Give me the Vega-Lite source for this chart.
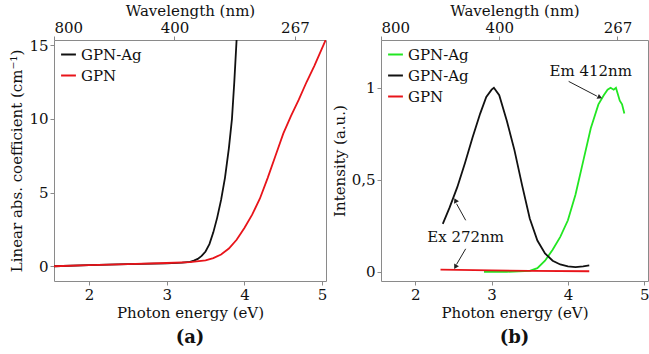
{
  "$schema": "https://vega.github.io/schema/vega-lite/v6.json",
  "padding": {"left": 9, "top": 2, "right": 0, "bottom": 0},
  "spacing": 3,
  "resolve": {"scale": {"color": "independent", "x": "independent", "y": "independent"}, "legend": {"color": "independent"}},
  "config": {
    "font": "DejaVu Serif",
    "view": {"stroke": "#8a8a8a", "strokeWidth": 1},
    "axis": {"domain": false, "grid": false, "labelFont": "DejaVu Serif", "titleFont": "DejaVu Serif", "labelFontSize": 15, "titleFontSize": 15, "titleFontWeight": "normal", "labelColor": "#111", "titleColor": "#111", "tickColor": "#8a8a8a", "tickSize": 4},
    "legend": {"labelFont": "DejaVu Serif", "labelFontSize": 15, "labelColor": "#111", "symbolType": "stroke", "symbolStrokeWidth": 2, "symbolSize": 220, "rowPadding": 4, "padding": 4, "offset": 2, "title": null},
    "title": {"font": "DejaVu Serif", "fontSize": 18, "fontWeight": "bold", "color": "#111"}
  },
  "datasets": {
    "abs": [
      {"E": 1.55, "v": 0.0, "s": "GPN-Ag"}, {"E": 2.0, "v": 0.08, "s": "GPN-Ag"}, {"E": 2.5, "v": 0.14, "s": "GPN-Ag"}, {"E": 3.0, "v": 0.2, "s": "GPN-Ag"}, {"E": 3.2, "v": 0.25, "s": "GPN-Ag"}, {"E": 3.3, "v": 0.3, "s": "GPN-Ag"}, {"E": 3.35, "v": 0.38, "s": "GPN-Ag"}, {"E": 3.4, "v": 0.5, "s": "GPN-Ag"}, {"E": 3.45, "v": 0.7, "s": "GPN-Ag"}, {"E": 3.5, "v": 1.0, "s": "GPN-Ag"}, {"E": 3.55, "v": 1.5, "s": "GPN-Ag"}, {"E": 3.6, "v": 2.3, "s": "GPN-Ag"}, {"E": 3.65, "v": 3.3, "s": "GPN-Ag"}, {"E": 3.7, "v": 4.5, "s": "GPN-Ag"}, {"E": 3.75, "v": 6.0, "s": "GPN-Ag"}, {"E": 3.8, "v": 8.0, "s": "GPN-Ag"}, {"E": 3.84, "v": 10.0, "s": "GPN-Ag"}, {"E": 3.87, "v": 12.5, "s": "GPN-Ag"}, {"E": 3.9, "v": 15.4, "s": "GPN-Ag"},
      {"E": 1.55, "v": 0.0, "s": "GPN"}, {"E": 2.0, "v": 0.08, "s": "GPN"}, {"E": 2.5, "v": 0.15, "s": "GPN"}, {"E": 3.0, "v": 0.22, "s": "GPN"}, {"E": 3.3, "v": 0.28, "s": "GPN"}, {"E": 3.5, "v": 0.4, "s": "GPN"}, {"E": 3.6, "v": 0.55, "s": "GPN"}, {"E": 3.7, "v": 0.8, "s": "GPN"}, {"E": 3.8, "v": 1.2, "s": "GPN"}, {"E": 3.9, "v": 1.8, "s": "GPN"}, {"E": 4.0, "v": 2.6, "s": "GPN"}, {"E": 4.1, "v": 3.5, "s": "GPN"}, {"E": 4.2, "v": 4.6, "s": "GPN"}, {"E": 4.3, "v": 6.0, "s": "GPN"}, {"E": 4.4, "v": 7.5, "s": "GPN"}, {"E": 4.5, "v": 9.0, "s": "GPN"}, {"E": 4.6, "v": 10.2, "s": "GPN"}, {"E": 4.7, "v": 11.3, "s": "GPN"}, {"E": 4.8, "v": 12.5, "s": "GPN"}, {"E": 4.9, "v": 13.6, "s": "GPN"}, {"E": 5.0, "v": 14.8, "s": "GPN"}, {"E": 5.05, "v": 15.4, "s": "GPN"}
    ],
    "pl": [
      {"E": 2.9, "v": 0.0, "s": "ex"}, {"E": 3.2, "v": 0.0, "s": "ex"}, {"E": 3.5, "v": 0.005, "s": "ex"}, {"E": 3.6, "v": 0.02, "s": "ex"}, {"E": 3.7, "v": 0.06, "s": "ex"}, {"E": 3.8, "v": 0.12, "s": "ex"}, {"E": 3.9, "v": 0.19, "s": "ex"}, {"E": 4.0, "v": 0.28, "s": "ex"}, {"E": 4.1, "v": 0.42, "s": "ex"}, {"E": 4.2, "v": 0.6, "s": "ex"}, {"E": 4.3, "v": 0.78, "s": "ex"}, {"E": 4.4, "v": 0.91, "s": "ex"}, {"E": 4.47, "v": 0.96, "s": "ex"}, {"E": 4.52, "v": 0.99, "s": "ex"}, {"E": 4.56, "v": 1.0, "s": "ex"}, {"E": 4.6, "v": 0.99, "s": "ex"}, {"E": 4.63, "v": 1.0, "s": "ex"}, {"E": 4.68, "v": 0.93, "s": "ex"}, {"E": 4.71, "v": 0.91, "s": "ex"}, {"E": 4.74, "v": 0.86, "s": "ex"},
      {"E": 2.36, "v": 0.26, "s": "em"}, {"E": 2.45, "v": 0.35, "s": "em"}, {"E": 2.55, "v": 0.46, "s": "em"}, {"E": 2.65, "v": 0.59, "s": "em"}, {"E": 2.75, "v": 0.73, "s": "em"}, {"E": 2.85, "v": 0.86, "s": "em"}, {"E": 2.93, "v": 0.95, "s": "em"}, {"E": 3.0, "v": 0.99, "s": "em"}, {"E": 3.03, "v": 1.0, "s": "em"}, {"E": 3.1, "v": 0.96, "s": "em"}, {"E": 3.2, "v": 0.82, "s": "em"}, {"E": 3.3, "v": 0.66, "s": "em"}, {"E": 3.4, "v": 0.47, "s": "em"}, {"E": 3.5, "v": 0.29, "s": "em"}, {"E": 3.6, "v": 0.17, "s": "em"}, {"E": 3.7, "v": 0.1, "s": "em"}, {"E": 3.8, "v": 0.06, "s": "em"}, {"E": 3.9, "v": 0.04, "s": "em"}, {"E": 4.0, "v": 0.03, "s": "em"}, {"E": 4.1, "v": 0.025, "s": "em"}, {"E": 4.2, "v": 0.03, "s": "em"}, {"E": 4.28, "v": 0.035, "s": "em"},
      {"E": 2.33, "v": 0.012, "s": "gpn"}, {"E": 3.0, "v": 0.008, "s": "gpn"}, {"E": 3.5, "v": 0.005, "s": "gpn"}, {"E": 4.28, "v": 0.003, "s": "gpn"}
    ],
    "wl": [{"E": 1.55, "nm": "800"}, {"E": 3.1, "nm": "400"}, {"E": 4.65, "nm": "267"}]
  },
  "hconcat": [
    {
      "width": 272,
      "height": 241,
      "title": {"text": "(a)", "orient": "bottom", "offset": 9},
      "resolve": {"scale": {"x": "independent"}, "axis": {"x": "independent"}},
      "layer": [
        {
          "data": {"name": "abs"},
          "mark": {"type": "line", "clip": true, "strokeWidth": 1.8},
          "encoding": {
            "x": {"field": "E", "type": "quantitative", "scale": {"domain": [1.55, 5.05], "nice": false, "zero": false}, "axis": {"values": [2, 3, 4, 5], "format": "~g", "title": "Photon energy (eV)", "titlePadding": 3, "labelPadding": 2}},
            "y": {"field": "v", "type": "quantitative", "scale": {"domain": [-1, 15.35], "nice": false, "zero": false}, "axis": {"values": [0, 5, 10, 15], "title": "Linear abs. coefficient (cm⁻¹)", "titlePadding": 4}},
            "color": {"field": "s", "type": "nominal", "scale": {"domain": ["GPN-Ag", "GPN"], "range": ["#111111", "#e8141a"]}, "legend": {"orient": "top-left"}},
            "order": {"field": "E"}
          }
        },
        {
          "data": {"name": "wl"},
          "mark": {"type": "point", "opacity": 0},
          "encoding": {
            "x": {"field": "E", "type": "quantitative", "scale": {"domain": [1.55, 5.05], "nice": false, "zero": false}, "axis": {"orient": "top", "values": [1.55, 3.1, 4.65], "labelExpr": "datum.value < 2 ? '800' : datum.value < 4 ? '400' : '267'", "title": "Wavelength (nm)", "titlePadding": 2, "labelPadding": 1}}
          }
        }
      ]
    },
    {
      "width": 267,
      "height": 241,
      "title": {"text": "(b)", "orient": "bottom", "offset": 9},
      "resolve": {"scale": {"x": "independent"}, "axis": {"x": "independent"}},
      "layer": [
        {
          "layer": [
            {
              "data": {"name": "pl"},
              "mark": {"type": "line", "clip": true, "strokeWidth": 1.8},
              "encoding": {
                "x": {"field": "E", "type": "quantitative", "scale": {"domain": [1.55, 5.05], "nice": false, "zero": false}, "axis": {"values": [2, 3, 4, 5], "format": "~g", "title": "Photon energy (eV)", "titlePadding": 3, "labelPadding": 2}},
                "y": {"field": "v", "type": "quantitative", "scale": {"domain": [-0.05, 1.26], "nice": false, "zero": false}, "axis": {"values": [0, 0.5, 1], "labelExpr": "replace(format(datum.value, '~g'), '.', ',')", "title": "Intensity (a.u.)", "titlePadding": 4}},
                "color": {"field": "s", "type": "nominal", "scale": {"domain": ["ex", "em", "gpn"], "range": ["#22e622", "#111111", "#e8141a"]}, "legend": {"orient": "top-left", "labelExpr": "datum.value == 'gpn' ? 'GPN' : 'GPN-Ag'"}},
                "order": {"field": "E"}
              }
            },
            {
              "data": {"values": [{"E": 4.3, "v": 1.09, "t": "Em 412nm"}, {"E": 2.66, "v": 0.19, "t": "Ex 272nm"}]},
              "mark": {"type": "text", "fontSize": 15, "font": "DejaVu Serif", "color": "#111"},
              "encoding": {"x": {"field": "E", "type": "quantitative"}, "y": {"field": "v", "type": "quantitative"}, "text": {"field": "t"}}
            },
            {
              "data": {"values": [{"E": 4.01, "v": 1.035, "E2": 4.38, "v2": 0.955}, {"E": 2.66, "v": 0.28, "E2": 2.54, "v2": 0.37}, {"E": 2.66, "v": 0.125, "E2": 2.54, "v2": 0.04}]},
              "mark": {"type": "rule", "color": "#222", "strokeWidth": 1},
              "encoding": {"x": {"field": "E", "type": "quantitative"}, "y": {"field": "v", "type": "quantitative"}, "x2": {"field": "E2"}, "y2": {"field": "v2"}}
            },
            {
              "data": {"values": [{"E": 4.41, "v": 0.95}]},
              "mark": {"type": "point", "shape": "triangle", "filled": true, "color": "#222", "size": 30, "angle": 115, "opacity": 1},
              "encoding": {"x": {"field": "E", "type": "quantitative"}, "y": {"field": "v", "type": "quantitative"}}
            },
            {
              "data": {"values": [{"E": 2.53, "v": 0.385}]},
              "mark": {"type": "point", "shape": "triangle", "filled": true, "color": "#222", "size": 30, "angle": -27, "opacity": 1},
              "encoding": {"x": {"field": "E", "type": "quantitative"}, "y": {"field": "v", "type": "quantitative"}}
            },
            {
              "data": {"values": [{"E": 2.53, "v": 0.03}]},
              "mark": {"type": "point", "shape": "triangle", "filled": true, "color": "#222", "size": 30, "angle": 210, "opacity": 1},
              "encoding": {"x": {"field": "E", "type": "quantitative"}, "y": {"field": "v", "type": "quantitative"}}
            }
          ]
        },
        {
          "data": {"name": "wl"},
          "mark": {"type": "point", "opacity": 0},
          "encoding": {
            "x": {"field": "E", "type": "quantitative", "scale": {"domain": [1.55, 5.05], "nice": false, "zero": false}, "axis": {"orient": "top", "values": [1.55, 3.1, 4.65], "labelExpr": "datum.value < 2 ? '800' : datum.value < 4 ? '400' : '267'", "title": "Wavelength (nm)", "titlePadding": 2, "labelPadding": 1}}
          }
        }
      ]
    }
  ]
}
